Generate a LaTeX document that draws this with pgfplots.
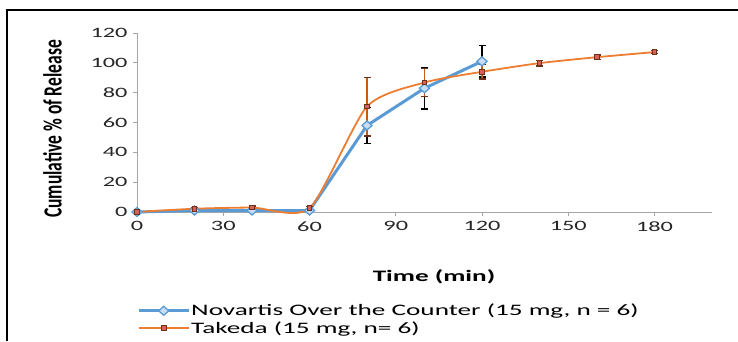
\documentclass[border=0pt]{standalone}
\usepackage{pgfplots}
\pgfplotsset{compat=1.18}
\usepackage{fontspec}
\setmainfont{Carlito}[FakeStretch=1.7]
\newfontfamily\ylabfont{Carlito}
\definecolor{novblue}{HTML}{5B9BD5}
\definecolor{novfill}{HTML}{C9DDF2}
\definecolor{takorange}{HTML}{ED7D31}
\definecolor{takerr}{HTML}{C55A11}
\definecolor{takmark}{HTML}{6E3216}
\definecolor{takfill}{HTML}{D9605A}
\definecolor{axgray}{HTML}{A6A6A6}
\begin{document}
\begin{tikzpicture}
\useasboundingbox (0,0) rectangle (738pt,341pt);
\draw[line width=2pt] (7pt,0pt) -- (7pt,331pt) -- (739pt,331pt);
\begin{axis}[
  at={(137pt,129pt)}, anchor=south west,
  scale only axis, width=575pt, height=179pt,
  xmin=0, xmax=200, ymin=0, ymax=120,
  axis x line=bottom, axis y line=left,
  axis line style={draw=axgray, line width=1pt, -},
  xtick={0,30,...,180}, ytick={0,20,...,120},
  tick style={draw=axgray, line width=1pt},
  tick align=outside, major tick length=4pt,
  /pgf/number format/assume math mode=true,
  ticklabel style={font=\fontsize{14.3}{17}\selectfont, text=black!85},
  yticklabel style={anchor=east, xshift=-2pt},
  xticklabel style={anchor=north, yshift=-2pt},
  xlabel={\textbf{Time (min)}},
  xlabel style={at={(axis description cs:0.5165,-0.36)}, anchor=center, font=\fontsize{16}{19}\selectfont},
  ylabel={\scalebox{1}[1.5]{\ylabfont\bfseries\fontsize{17.5}{20}\selectfont Cumulative \% of Release}},
  ylabel style={at={(axis description cs:-0.147,0.464)}, anchor=center, rotate=0},
  clip=false,
  legend cell align=left,
  legend style={at={(axis description cs:0,-0.6)}, anchor=west, draw=none, fill=none,
    inner sep=0pt, row sep=2pt, font=\fontsize{16}{19}\selectfont,
    nodes={inner sep=1pt}},
  legend image code/.code={\draw[mark repeat=2,mark phase=2] plot coordinates {(0pt,0pt)(25pt,0pt)(50pt,0pt)};},
]
\addplot[color=novblue, line width=3pt, mark=diamond*,
  mark options={fill=novfill, draw=novblue, line width=1.3pt, xscale=1.5, mark size=4.5pt},
  error bars/.cd, y dir=both, y explicit,
  error bar style={color=black, line width=1.4pt},
  error mark options={rotate=90, mark size=3.5pt, line width=1.4pt, color=black}]
  coordinates {
  (0,0) +- (0,0.2)
  (20,1) +- (0,0.5)
  (40,1) +- (0,0.5)
  (60,1) +- (0,0.5)
  (80,58) +- (0,12)
  (100,83) +- (0,14)
  (120,101) +- (0,10.5)
  };
\addlegendentry{Novartis Over the Counter (15 mg, n = 6)}
\addplot[color=takorange, line width=1.8pt, smooth, tension=0.4, mark=square*,
  mark options={fill=takfill, draw=takmark, line width=1pt, mark size=2.4pt},
  error bars/.cd, y dir=both, y explicit,
  error bar style={color=takerr, line width=1.3pt},
  error mark options={rotate=90, mark size=3.5pt, line width=1.3pt, color=takmark}]
  coordinates {
  (0,0) +- (0,0.3)
  (20,2.2) +- (0,1)
  (40,3) +- (0,1)
  (60,2.5) +- (0,1)
  (80,70.7) +- (0,19.7)
  (100,86.8) +- (0,9.5)
  (120,94) +- (0,4.8)
  (140,99.8) +- (0,2)
  (160,103.8) +- (0,1.5)
  (180,107.2) +- (0,1)
  };
\addlegendentry{Takeda (15 mg, n= 6)}
\end{axis}
\end{tikzpicture}
\end{document}
